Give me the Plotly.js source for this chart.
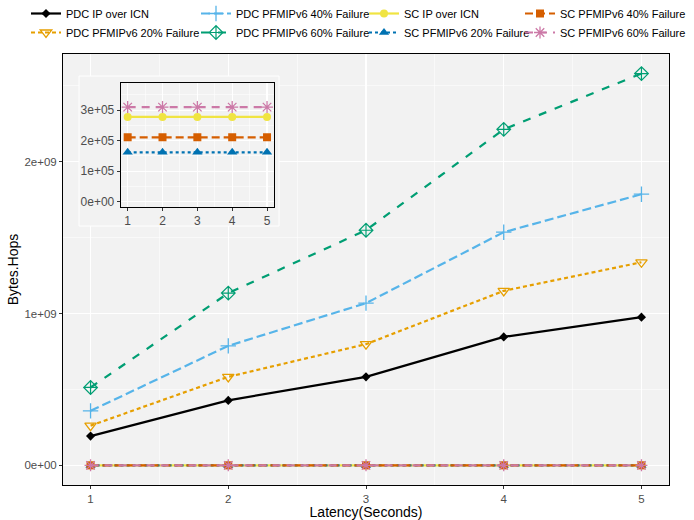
<!DOCTYPE html>
<html>
<head>
<meta charset="utf-8">
<script src="https://cdn.plot.ly/plotly-3.0.1.min.js"></script>
<style>html,body{margin:0;padding:0;background:#fff;}#chart{width:694px;height:520px;}</style>
</head>
<body>
<div id="chart"></div>
<script>
// ---- data ----
var latency = [1, 2, 3, 4, 5];
var pdcIpOverIcn = [0.193e9, 0.428e9, 0.583e9, 0.846e9, 0.976e9];
var pdcFail20 = [0.262e9, 0.583e9, 0.798e9, 1.149e9, 1.337e9];
var pdcFail40 = [0.359e9, 0.787e9, 1.068e9, 1.535e9, 1.785e9];
var pdcFail60 = [0.513e9, 1.134e9, 1.548e9, 2.212e9, 2.579e9];
var scIpOverIcn = [2.78e5, 2.78e5, 2.78e5, 2.78e5, 2.78e5];
var scFail20 = [1.62e5, 1.62e5, 1.62e5, 1.62e5, 1.62e5];
var scFail40 = [2.11e5, 2.11e5, 2.11e5, 2.11e5, 2.11e5];
var scFail60 = [3.10e5, 3.10e5, 3.10e5, 3.10e5, 3.10e5];

var mainTickVals = [0, 1e9, 2e9];
var mainTickText = ["0e+00", "1e+09", "2e+09"];
var insetTickVals = [0, 1e5, 2e5, 3e5];
var insetTickText = ["0e+00", "1e+05", "2e+05", "3e+05"];

var names = {
  pdcIp: "PDC IP over ICN", pdc20: "PDC PFMIPv6 20% Failure",
  pdc40: "PDC PFMIPv6 40% Failure", pdc60: "PDC PFMIPv6 60% Failure",
  scIp: "SC IP over ICN", sc20: "SC PFMIPv6 20% Failure",
  sc40: "SC PFMIPv6 40% Failure", sc60: "SC PFMIPv6 60% Failure"
};

// ---- styles ----
var st = {
  pdcIp: {line: {color: "#000000", width: 2.2, dash: "solid"}, marker: {symbol: "diamond", size: 7, color: "#000000"}},
  pdc20: {line: {color: "#E69F00", width: 2.2, dash: "4px,3px"}, marker: {symbol: "triangle-down-open", size: 10, color: "#E69F00", line: {width: 1.3}}},
  pdc40: {line: {color: "#56B4E9", width: 2.2, dash: "9px,4px"}, marker: {symbol: "cross-thin-open", size: 11, color: "#56B4E9", line: {width: 1.3, color: "#56B4E9"}}},
  pdc60: {line: {color: "#009E73", width: 2.2, dash: "8px,9px"}, marker: {symbol: "diamond-cross-open", size: 10.5, color: "#009E73", line: {width: 1.2}}},
  scIp: {line: {color: "#F0E442", width: 2.2, dash: "solid"}, marker: {symbol: "circle", size: 8, color: "#F0E442"}},
  sc20: {line: {color: "#0072B2", width: 2.2, dash: "3px,3px"}, marker: {symbol: "triangle-up", size: 9, color: "#0072B2"}},
  sc40: {line: {color: "#D55E00", width: 2.2, dash: "8px,4px"}, marker: {symbol: "square", size: 8, color: "#D55E00"}},
  sc60: {line: {color: "#CC79A7", width: 2.2, dash: "8px,6px"}, marker: {symbol: "asterisk-open", size: 10, color: "#CC79A7", line: {width: 1.3, color: "#CC79A7"}}}
};

function tr(key, y, legend, xa, ya, show) {
  return {
    type: "scatter", mode: "lines+markers", x: latency, y: y, name: names[key],
    line: st[key].line, marker: st[key].marker,
    xaxis: xa, yaxis: ya, legend: legend, showlegend: show, hoverinfo: "x+y+name"
  };
}

var data = [
  tr("pdcIp", pdcIpOverIcn, "legend", "x", "y", true),
  tr("pdc20", pdcFail20, "legend", "x", "y", true),
  tr("pdc40", pdcFail40, "legend2", "x", "y", true),
  tr("pdc60", pdcFail60, "legend2", "x", "y", true),
  tr("scIp", scIpOverIcn, "legend3", "x", "y", true),
  tr("sc20", scFail20, "legend3", "x", "y", true),
  tr("sc40", scFail40, "legend4", "x", "y", true),
  tr("sc60", scFail60, "legend4", "x", "y", true),
  // empty trace creating the inset's background box
  {type: "scatter", mode: "markers", x: [], y: [], xaxis: "x2", yaxis: "y2", showlegend: false, hoverinfo: "skip"},
  // inset
  tr("scIp", scIpOverIcn, "legend", "x3", "y3", false),
  tr("sc20", scFail20, "legend", "x3", "y3", false),
  tr("sc40", scFail40, "legend", "x3", "y3", false),
  tr("sc60", scFail60, "legend", "x3", "y3", false)
];

var font = "Liberation Sans, Arial, Helvetica, sans-serif";
var bg = "#F2F2F2";
var W = 606, H = 431, L = 63, T = 54;
function px2x(p) { return (p - L) / W; }
function py2y(p) { return (T + H - p) / H; }

// legend positioned by the left pixel where its text should start
function leg(textPx) {
  return {x: px2x(textPx - 40), y: py2y(-1), xanchor: "left", yanchor: "top", orientation: "v",
    bgcolor: "rgba(0,0,0,0)", borderwidth: 0, font: {family: font, size: 11, color: "#000"},
    itemwidth: 30, tracegroupgap: 0};
}

var axCommon = {
  showline: true, linecolor: "#000000", linewidth: 1, mirror: true,
  ticks: "outside", ticklen: 3, tickwidth: 1, tickcolor: "#333333",
  showgrid: true, gridcolor: "#FFFFFF", gridwidth: 1.1, zeroline: false,
  tickfont: {family: font, size: 11.5, color: "#4D4D4D"}, automargin: false
};

var layout = {
  width: 694, height: 520,
  margin: {l: L, r: 694 - L - W, t: T, b: 520 - T - H, pad: 0, autoexpand: false},
  paper_bgcolor: "#FFFFFF", plot_bgcolor: bg,
  font: {family: font},
  showlegend: true,
  legend: leg(66), legend2: leg(236), legend3: leg(404), legend4: leg(560),
  xaxis: Object.assign({}, axCommon, {
    range: [0.8, 5.2], tickvals: latency, ticktext: latency.map(String),
    minor: {showgrid: true, gridcolor: "#FFFFFF", gridwidth: 0.5, dtick: 0.5, tick0: 0.5, ticks: ""},
    title: {text: "Latency(Seconds)", font: {family: font, size: 14, color: "#000"}, standoff: 1}
  }),
  yaxis: Object.assign({}, axCommon, {
    range: [-0.129e9, 2.708e9], tickvals: mainTickVals, ticktext: mainTickText,
    minor: {showgrid: true, gridcolor: "#FFFFFF", gridwidth: 0.5, dtick: 0.5e9, tick0: 0, ticks: ""},
    title: {text: "Bytes.Hops", font: {family: font, size: 14, color: "#000"}, standoff: 2}
  }),
  xaxis2: {domain: [px2x(79), px2x(279)], anchor: "y2", range: [0, 1], showgrid: false, zeroline: false,
    showline: false, showticklabels: false, ticks: "", fixedrange: true},
  yaxis2: {domain: [py2y(226), py2y(76)], anchor: "x2", range: [0, 1], showgrid: false, zeroline: false,
    showline: false, showticklabels: false, ticks: "", fixedrange: true},
  xaxis3: Object.assign({}, axCommon, {
    domain: [px2x(120.7), px2x(274)], anchor: "y3", range: [0.8, 5.2],
    tickvals: latency, ticktext: latency.map(String),
    tickfont: {family: font, size: 12, color: "#4D4D4D"},
    minor: {showgrid: true, gridcolor: "#FFFFFF", gridwidth: 0.5, dtick: 0.5, tick0: 0.5, ticks: ""}
  }),
  yaxis3: Object.assign({}, axCommon, {
    domain: [py2y(207), py2y(82.7)], anchor: "x3", range: [-0.173e5, 3.90e5],
    tickvals: insetTickVals, ticktext: insetTickText,
    tickfont: {family: font, size: 12, color: "#4D4D4D"},
    minor: {showgrid: true, gridcolor: "#FFFFFF", gridwidth: 0.5, dtick: 0.5e5, tick0: 0, ticks: ""}
  }),
  shapes: [
    {type: "rect", xref: "paper", yref: "paper", x0: px2x(79), x1: px2x(279), y0: py2y(226), y1: py2y(76),
      line: {color: "#FFFFFF", width: 1}, fillcolor: "rgba(0,0,0,0)", layer: "above"}
  ]
};

Plotly.newPlot("chart", data, layout, {displayModeBar: false, staticPlot: true});
</script>
</body>
</html>
